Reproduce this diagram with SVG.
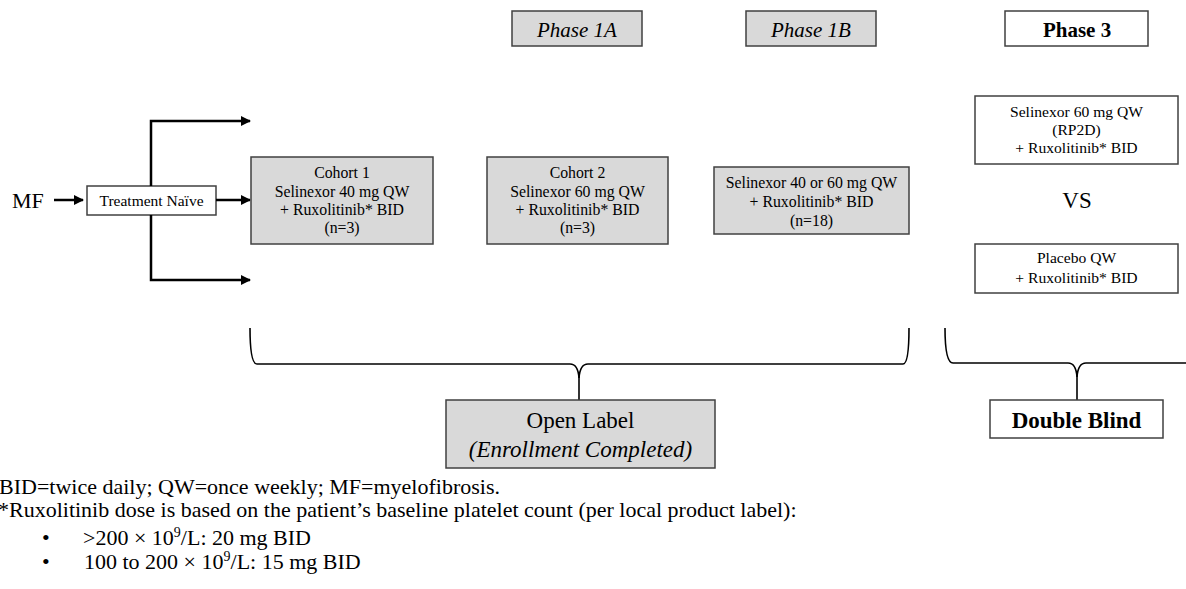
<svg xmlns="http://www.w3.org/2000/svg" width="1186" height="589" viewBox="0 0 1186 589">
<style>
text{font-family:"Liberation Serif","Times New Roman",serif;fill:#000}
.gray{fill:#d9d9d9;stroke:#404040;stroke-width:1.5}
.white{fill:#fff;stroke:#404040;stroke-width:1.5}
.c{text-anchor:middle}
.s16{font-size:15.8px}
.s15{font-size:15.6px}
.conn{fill:none;stroke:#000;stroke-width:2.5}
.brace{fill:none;stroke:#000;stroke-width:1.6}
</style>
<defs>
<marker id="ah" viewBox="0 0 10 10" refX="9" refY="5" markerWidth="4" markerHeight="4" orient="auto" markerUnits="strokeWidth">
<path d="M0,0 L10,5 L0,10 z" fill="#000"/>
</marker>
</defs>
<rect width="1186" height="589" fill="#fff"/>

<g id="phase1a"><rect class="gray" x="512" y="11" width="130" height="35"/><text class="c" x="577" y="37" font-size="21" font-style="italic">Phase 1A</text></g>
<g id="phase1b"><rect class="gray" x="746" y="11" width="130" height="35"/><text class="c" x="811" y="37" font-size="21" font-style="italic">Phase 1B</text></g>
<g id="phase3"><rect class="white" x="1005" y="11" width="143" height="35"/><text class="c" x="1077" y="37" font-size="21" font-weight="bold">Phase 3</text></g>

<g id="mf"><text x="12" y="208" font-size="22">MF</text></g>
<g id="naive"><rect class="white" x="87" y="186" width="129" height="29"/><text class="c" x="151.5" y="206" font-size="15.5">Treatment Naïve</text></g>

<g id="connectors">
<line class="conn" x1="54" y1="200" x2="83" y2="200" marker-end="url(#ah)"/>
<line class="conn" x1="216" y1="200" x2="250" y2="200" marker-end="url(#ah)"/>
<polyline class="conn" points="151,186 151,121 250,121" marker-end="url(#ah)"/>
<polyline class="conn" points="151,215 151,280 250,280" marker-end="url(#ah)"/>
<path class="brace" d="M250,328 Q250,364 257,364 L570,364 Q578,364 579,378 Q580,364 588,364 L903,364 Q909,364 909,328"/>
<line class="brace" x1="579" y1="376" x2="579" y2="400"/>
<path class="brace" d="M945,328 Q945,363 953,363 L1068,363 Q1076,363 1077,377 Q1078,363 1086,363 L1186,363"/>
<line class="brace" x1="1077" y1="375" x2="1077" y2="400"/>
</g>

<g id="cohort1"><rect class="gray" x="251" y="157" width="182" height="87"/>
<text class="c s16" x="342" y="178">Cohort 1</text><text class="c s16" x="342" y="197">Selinexor 40 mg QW</text><text class="c s16" x="342" y="215">+ Ruxolitinib* BID</text><text class="c s16" x="342" y="233">(n=3)</text></g>
<g id="cohort2"><rect class="gray" x="487" y="157" width="181" height="87"/>
<text class="c s16" x="577.5" y="178">Cohort 2</text><text class="c s16" x="577.5" y="197">Selinexor 60 mg QW</text><text class="c s16" x="577.5" y="215">+ Ruxolitinib* BID</text><text class="c s16" x="577.5" y="233">(n=3)</text></g>
<g id="phase1b-arm"><rect class="gray" x="714" y="167" width="195" height="67"/>
<text class="c s16" x="811.5" y="188">Selinexor 40 or 60 mg QW</text><text class="c s16" x="811.5" y="207">+ Ruxolitinib* BID</text><text class="c s16" x="811.5" y="226">(n=18)</text></g>
<g id="sel60"><rect class="white" x="975" y="96" width="203" height="68"/>
<text class="c s15" x="1076.5" y="117">Selinexor 60 mg QW</text><text class="c s15" x="1076.5" y="135">(RP2D)</text><text class="c s15" x="1076.5" y="153">+ Ruxolitinib* BID</text></g>
<g id="vs"><text class="c" x="1077" y="208" font-size="23">VS</text></g>
<g id="placebo"><rect class="white" x="975" y="244" width="203" height="49"/>
<text class="c s15" x="1076.5" y="263">Placebo QW</text><text class="c s15" x="1076.5" y="283">+ Ruxolitinib* BID</text></g>

<g id="openlabel"><rect class="gray" x="446" y="400" width="269" height="68"/>
<text class="c" x="580.5" y="428" font-size="23">Open Label</text><text class="c" x="580.5" y="457" font-size="23" font-style="italic">(Enrollment Completed)</text></g>
<g id="doubleblind"><rect class="white" x="990" y="400" width="173" height="38"/>
<text class="c" x="1076.5" y="428" font-size="23" font-weight="bold">Double Blind</text></g>

<g id="footnote" font-size="22">
<text x="-1" y="494">BID=twice daily; QW=once weekly; MF=myelofibrosis.</text>
<text x="-2" y="517">*Ruxolitinib dose is based on the patient’s baseline platelet count (per local product label):</text>
<text x="42" y="545">•</text><text x="83" y="545">&gt;200 × 10<tspan font-size="14" dy="-8">9</tspan><tspan dy="8">/L: 20 mg BID</tspan></text>
<text x="42" y="569">•</text><text x="84" y="569">100 to 200 × 10<tspan font-size="14" dy="-8">9</tspan><tspan dy="8">/L: 15 mg BID</tspan></text>
</g>
</svg>
